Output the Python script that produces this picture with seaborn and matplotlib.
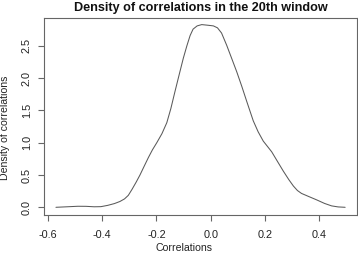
import matplotlib
matplotlib.use("Agg")
import matplotlib.pyplot as plt
import seaborn as sns
import pandas as pd

# Density curve
corr = [-0.571, -0.530, -0.490, -0.460, -0.430, -0.405, -0.380, -0.355, -0.335, -0.318,
        -0.304, -0.290, -0.275, -0.261, -0.245, -0.230, -0.215, -0.199, -0.180, -0.162,
        -0.147, -0.132, -0.116, -0.101, -0.088, -0.076, -0.065, -0.050, -0.033, -0.010,
        0.010, 0.025, 0.040, 0.059, 0.078, 0.096, 0.115, 0.133, 0.157, 0.175,
        0.194, 0.210, 0.225, 0.245, 0.268, 0.288, 0.305, 0.320, 0.335, 0.360,
        0.391, 0.420, 0.446, 0.470, 0.496]
dens = [0.000, 0.008, 0.016, 0.015, 0.008, 0.010, 0.030, 0.058, 0.090, 0.130,
        0.185, 0.280, 0.390, 0.500, 0.640, 0.770, 0.890, 1.000, 1.140, 1.310,
        1.530, 1.790, 2.060, 2.310, 2.500, 2.660, 2.760, 2.810, 2.830, 2.820,
        2.810, 2.780, 2.700, 2.510, 2.300, 2.100, 1.870, 1.640, 1.340, 1.170,
        1.025, 0.940, 0.860, 0.720, 0.560, 0.430, 0.330, 0.260, 0.215, 0.170,
        0.115, 0.060, 0.022, 0.006, 0.000]

x_ticks = [-0.6, -0.4, -0.2, 0.0, 0.2, 0.4]
y_ticks = [0.0, 0.5, 1.0, 1.5, 2.0, 2.5]

df = pd.DataFrame({"Correlations": corr, "Density": dens})

sns.set_style("ticks")
plt.rcParams["font.family"] = ["Liberation Sans", "DejaVu Sans"]

fig = plt.figure(figsize=(3.58, 2.57), dpi=100)
ax = fig.add_axes([0.1237, 0.165, 0.8729, 0.7669])

sns.lineplot(data=df, x="Correlations", y="Density", sort=False,
             color="#5a5a5a", linewidth=0.75, ax=ax)

ax.set_xlim(-0.614, 0.539)
ax.set_ylim(-0.113, 2.94)
ax.set_xticks(x_ticks)
ax.set_xticklabels([f"{v:.1f}" for v in x_ticks])
ax.set_yticks(y_ticks)
ax.set_yticklabels([f"{v:.1f}" for v in y_ticks], rotation=90, va="center")

for s in ax.spines.values():
    s.set_visible(True)
    s.set_color("#666666")
    s.set_linewidth(0.8)
ax.tick_params(axis="both", length=4.5, width=0.8, color="#666666",
               labelsize=7.8, labelcolor="#222222")
ax.tick_params(axis="x", pad=6.5)
ax.tick_params(axis="y", pad=4.5)

ax.set_xlabel("Correlations", fontsize=7.6, color="#222222")
ax.set_ylabel("Density of correlations", fontsize=7.6, color="#222222")
# labels sit a bit off-centre in the original
ax.xaxis.set_label_coords(0.447, -0.142)
ax.yaxis.set_label_coords(-0.110, 0.442)
ax.set_title("Density of correlations in the 20th window", fontsize=9.1,
             fontweight="bold", color="#111111", pad=5)

fig.savefig("out.png", dpi=100, facecolor="white")
